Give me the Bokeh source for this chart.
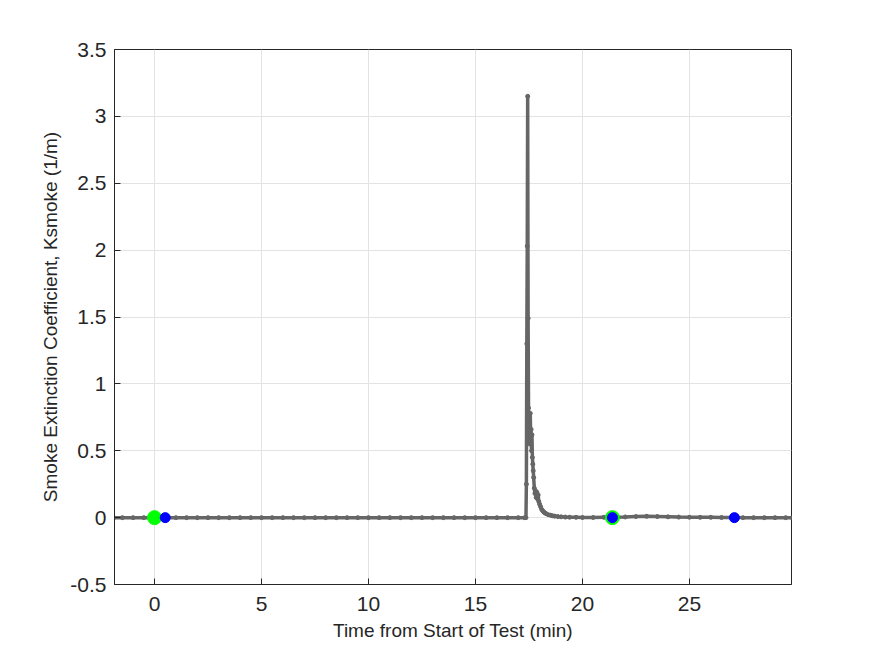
from bokeh.plotting import figure
from bokeh.models import Range1d, FixedTicker
from bokeh.embed import file_html
from bokeh.resources import INLINE

# Measured smoke extinction coefficient (1/m) vs time (min)
time_min = [-1.9, -1.5, -1.0, -0.5, 0.0, 0.5, 1.0, 1.5, 2.0, 2.5, 3.0, 3.5, 4.0, 4.5, 5.0,
            5.5, 6.0, 6.5, 7.0, 7.5, 8.0, 8.5, 9.0, 9.5, 10.0, 10.5, 11.0, 11.5, 12.0,
            12.5, 13.0, 13.5, 14.0, 14.5, 15.0, 15.5, 16.0, 16.5, 17.0, 17.3,
            17.36, 17.38, 17.40, 17.42, 17.44, 17.46, 17.48, 17.50, 17.52, 17.54, 17.56,
            17.58, 17.60, 17.62, 17.64, 17.66, 17.68, 17.70, 17.72, 17.75, 17.78, 17.81,
            17.84, 17.87, 17.90, 17.93, 17.96, 18.00, 18.05, 18.10, 18.15, 18.20, 18.25,
            18.30, 18.40, 18.50, 18.60, 18.70, 18.85, 19.0, 19.2, 19.4, 19.7, 20.0,
            20.5, 21.0, 21.5, 22.0, 22.5, 23.0, 23.5, 24.0, 24.5, 25.0, 25.5, 26.0,
            26.5, 27.0, 27.5, 28.0, 28.5, 29.0, 29.5, 29.8]
ksmoke = [0.0, 0.0, 0.0, 0.0, 0.0, 0.0, 0.0, 0.0, 0.0, 0.0, 0.0, 0.0, 0.0, 0.0, 0.0,
          0.0, 0.0, 0.0, 0.0, 0.0, 0.0, 0.0, 0.0, 0.0, 0.0, 0.0, 0.0, 0.0, 0.0,
          0.0, 0.0, 0.0, 0.0, 0.0, 0.0, 0.0, 0.0, 0.0, 0.0, 0.0,
          0.0, 0.25, 1.30, 2.03, 3.15, 1.49, 0.82, 0.62, 0.70, 0.55, 0.78,
          0.60, 0.66, 0.50, 0.62, 0.45, 0.40, 0.35, 0.30, 0.22, 0.18, 0.20,
          0.15, 0.19, 0.14, 0.17, 0.12, 0.10, 0.08, 0.06, 0.05, 0.04, 0.035,
          0.03, 0.022, 0.018, 0.014, 0.011, 0.008, 0.006, 0.004, 0.003, 0.002, 0.001,
          0.001, 0.002, 0.003, 0.005, 0.008, 0.010, 0.008, 0.006, 0.004, 0.003, 0.002, 0.002,
          0.001, 0.001, 0.0, 0.0, 0.0, 0.0, 0.0, 0.0]

green_t = [0.0, 21.4]
green_k = [0.0, 0.0]
blue_t = [0.5, 21.4, 27.1]
blue_k = [0.0, 0.0, 0.0]

x_ticks = [0, 5, 10, 15, 20, 25]
y_ticks = [-0.5, 0, 0.5, 1, 1.5, 2, 2.5, 3, 3.5]
y_tick_labels = ["-0.5", "0", "0.5", "1", "1.5", "2", "2.5", "3", "3.5"]

FONT = "Liberation Sans"
TXT = "#262626"

p = figure(width=875, height=656, output_backend="svg", toolbar_location=None,
           x_range=Range1d(-1.87, 29.77), y_range=Range1d(-0.5, 3.5),
           min_border_left=114, min_border_right=84, min_border_top=49, min_border_bottom=72,
           background_fill_color="white", border_fill_color="white")

p.outline_line_color = TXT
p.outline_line_width = 1
p.grid.grid_line_color = "#e3e3e3"
p.grid.grid_line_width = 1

p.xaxis.ticker = FixedTicker(ticks=x_ticks)
p.yaxis.ticker = FixedTicker(ticks=y_ticks)
p.yaxis.major_label_overrides = {v: s for v, s in zip(y_ticks, y_tick_labels)}
p.xaxis.major_label_overrides = {v: str(v) for v in x_ticks}
for ax in (p.xaxis, p.yaxis):
    ax.axis_line_color = TXT
    ax.major_tick_line_color = TXT
    ax.major_tick_in = 6
    ax.major_tick_out = 0
    ax.minor_tick_line_color = None
    ax.major_label_text_font = FONT
    ax.major_label_text_font_size = "21px"
    ax.major_label_text_color = TXT
    ax.axis_label_text_font = FONT
    ax.axis_label_text_font_size = "19px"
    ax.axis_label_text_font_style = "normal"
    ax.axis_label_text_color = TXT
p.xaxis.axis_label = "Time from Start of Test (min)"
p.yaxis.axis_label = "Smoke Extinction Coefficient, Ksmoke (1/m)"
p.xaxis.major_label_standoff = 12
p.yaxis.major_label_standoff = 8
p.xaxis.axis_label_standoff = 6
p.yaxis.axis_label_standoff = 6

p.line(time_min, ksmoke, line_color="#666666", line_width=3.5)
p.scatter(time_min, ksmoke, size=4, fill_color="#666666", line_color="#666666")
p.scatter(green_t, green_k, size=14, fill_color="#00ff00", line_color="#00ff00")
p.scatter(blue_t, blue_k, size=10, fill_color="#0000ff", line_color="#0000ff")

open("out.html", "w").write(file_html(p, INLINE))
